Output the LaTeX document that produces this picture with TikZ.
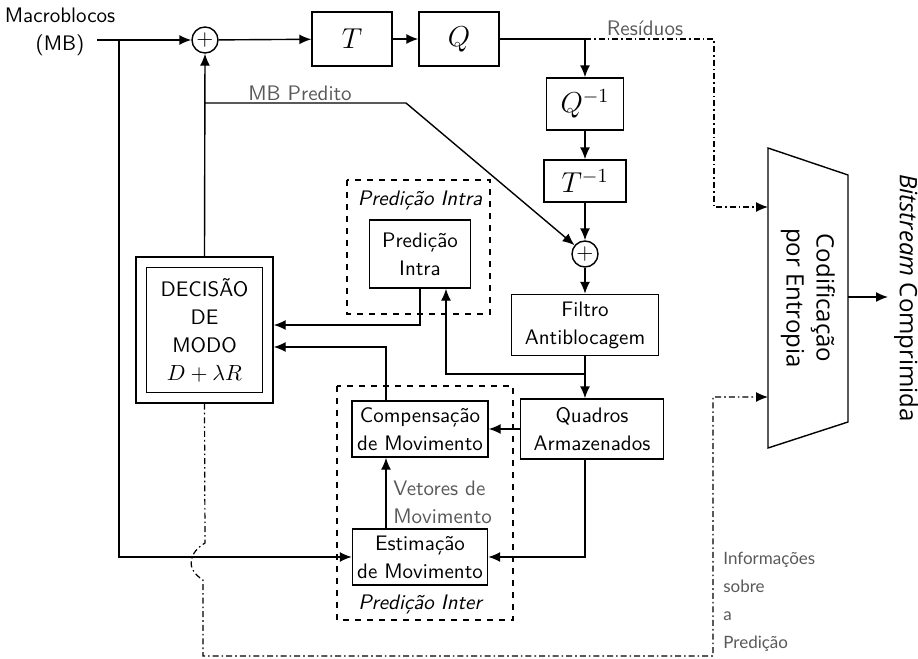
\documentclass[tikz,border=0pt]{standalone}
\usepackage{amsmath,amssymb}
\usepackage{fontspec}
\usetikzlibrary{arrows.meta}
\renewcommand{\familydefault}{\sfdefault}
\newfontfamily\lato{Lato}
\newfontfamily\opensans{Open Sans}
\definecolor{cinza}{gray}{0.35}

\tikzset{
  blk/.style={draw, line width=0.7pt, align=center, inner sep=2pt},
  soma/.style={draw, circle, line width=0.7pt, inner sep=0pt, minimum size=13pt},
  grupo/.style={draw, dashed, line width=0.6pt},
  seta/.style={-{Latex[length=6pt,width=5pt]}},
  info/.style={dash pattern=on 3pt off 1.5pt on 0.8pt off 1.5pt, line width=0.6pt},
  rotulo/.style={text=cinza},
}

\begin{document}
\begin{tikzpicture}[x=0.5pt, y=-0.5pt, line width=0.7pt,
  every node/.style={font=\fontsize{10.5pt}{14pt}\selectfont}]
\useasboundingbox (0,0) rectangle (918,659);

% entrada
\node[align=center] (mb) at (60,32) {Macroblocos\\(MB)};
\coordinate (ent) at (97,40);
\coordinate (j1) at (119,40);
\node[soma] (s1) at (205,40) {$+$};
\node[blk, minimum width=40pt, minimum height=27pt] (T) at (352,39) {\Large $T$};
\node[blk, minimum width=40pt, minimum height=27pt] (Q) at (459,39) {\Large $Q$};
\coordinate (j2) at (585,39);

% laco de reconstrucao
\node[blk, minimum width=38.5pt, minimum height=26pt] (Qi) at (585,104) {\Large $Q^{-1}$};
\node[blk, minimum width=41pt, minimum height=21pt] (Ti) at (585,181) {\Large $T^{-1}$};
\node[soma] (s2) at (585,254) {$+$};
\node[blk, minimum width=73.5pt, minimum height=30.5pt] (filtro) at (585,325) {Filtro\\Antiblocagem};
\coordinate (j3) at (585,374);
\node[blk, minimum width=71.5pt, minimum height=30pt] (quadros) at (592,429) {Quadros\\Armazenados};

% predicao intra
\draw[grupo] (347,180) rectangle (490,314);
\node (lintra) at (420,200) {\itshape Predição Intra};
\node[blk, minimum width=50.5pt, minimum height=34pt] (pi) at (420,254) {Predição\\Intra};

% predicao inter
\draw[grupo] (337,386) rectangle (513,620);
\node[blk, minimum width=68pt, minimum height=28pt] (comp) at (420,429) {Compensação\\de Movimento};
\node[blk, minimum width=67.5pt, minimum height=28pt] (est) at (420,557) {Estimação\\de Movimento};
\node (linter) at (420,604) {\itshape Predição Inter};
\node[rotulo, align=left, anchor=west] (vet) at (386,502) {Vetores de\\Movimento};

% decisao de modo
\node[blk, minimum width=58pt, minimum height=62.5pt] (dec) at (204.5,330)
  {DECISÃO\\DE\\MODO\\$D+\lambda R$};
\node[draw, minimum width=68.5pt, minimum height=73pt] (decx) at (dec) {};

% codificacao por entropia
\draw (768,148) -- (848,175) -- (848,422) -- (768,448) -- cycle;
\node[rotate=-90, align=center, font=\opensans\fontsize{12pt}{15pt}\selectfont] (cod) at (808,298) {Codificação\\por Entropia};
\coordinate (codA) at (768,207);
\coordinate (codB) at (768,397);
\coordinate (codS) at (848,297);
\coordinate (saida) at (888,297);
\node[rotate=-90, font=\opensans\fontsize{12pt}{15pt}\selectfont] (bits) at (906,298) {\textit{Bitstream} Comprimida};

% ligacoes
\draw[seta] (ent) -- (s1);
\draw[seta] (j1) |- (est.west);
\draw[seta] (s1) -- (T);
\draw[seta] (T) -- (Q);
\draw (Q) -- (j2);
\draw[seta] (j2) -- (Qi);
\draw[seta] (Qi) -- (Ti);
\draw[seta] (Ti) -- (s2);
\draw[seta] (s2) -- (filtro);
\draw[seta] (filtro.south) -- (filtro.south |- quadros.north);
\draw[seta] (j3) -| ([xshift=13pt]pi.south);
\draw[seta] (pi.south) |- ([yshift=2.5pt]decx.east);
\draw[seta] ([xshift=-17pt]comp.north) |- ([yshift=-8.5pt]decx.east);
\draw[seta] ([xshift=-17pt]est.north) -- ([xshift=-17pt]comp.south);
\draw[seta] (quadros.west) -- (comp.east);
\draw[seta] ([xshift=-3.5pt]quadros.south) |- (est.east);
\draw[seta] (decx.north) -- (s1.south);
\coordinate (j4) at (205,103);
\draw[seta] (j4) -- (406,103) -- (s2);
\node[rotulo] (mbp) at (300,93) {MB Predito};
\draw[seta] (codS) -- (saida);

% informacoes para a codificacao
\draw[info, seta] (j2) -- (714,39) -- (714,207) -- (codA);
\node[rotulo] (res) at (645,28) {Resíduos};
\draw[info, seta] (decx.south) -- (205,543) .. controls (190,552) and (184,568) .. (203,580)
  -- (203,656) -- (713,656) -- (713,397) -- (codB);
\node[rotulo, align=left, anchor=north west, font=\lato\fontsize{8.5pt}{14pt}\selectfont] (infp) at (716,545)
  {Informações\\sobre\\a\\Predição};
\end{tikzpicture}
\end{document}
